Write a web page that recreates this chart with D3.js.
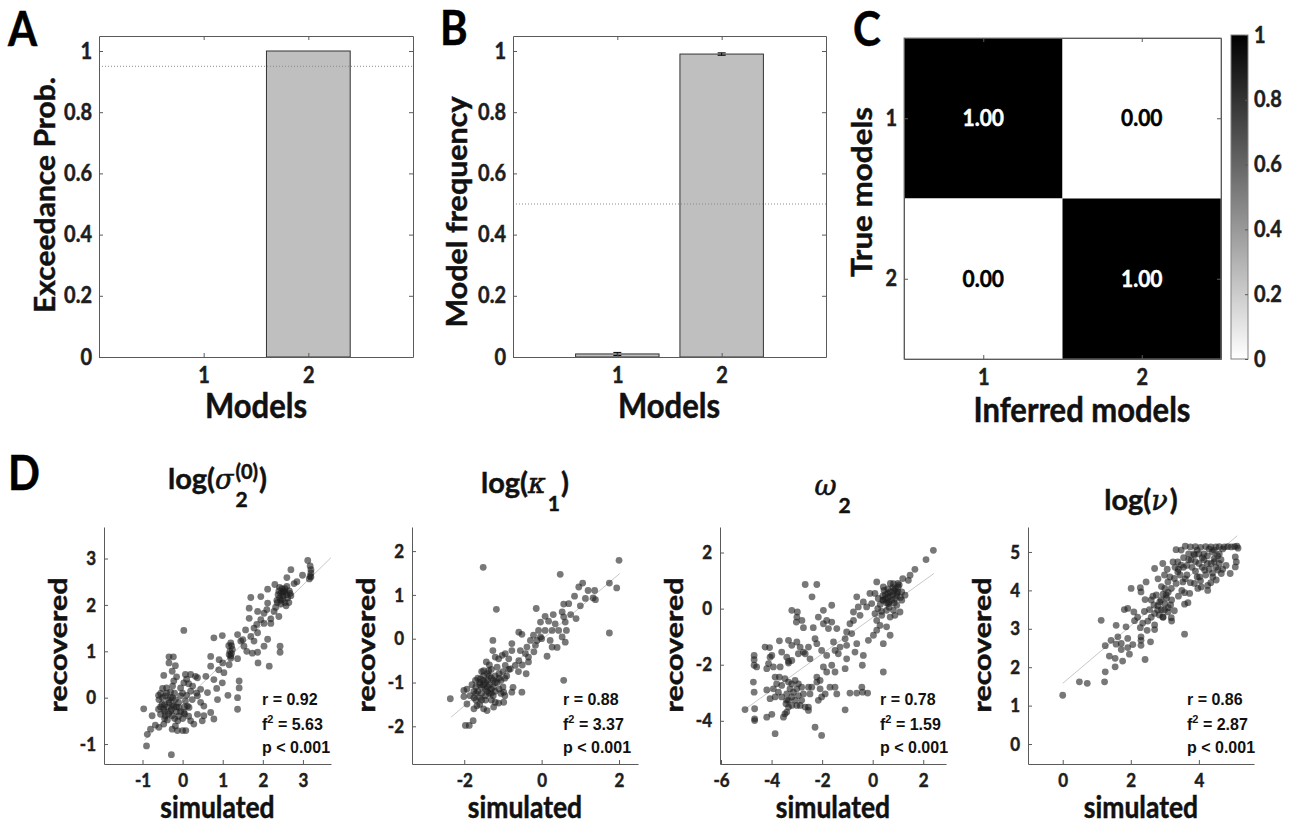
<!DOCTYPE html>
<meta charset="utf-8">
<script src="https://d3js.org/d3.v7.min.js"></script>
<style>
  body { margin: 0; background: #fff; }
  text { font-family: Lato, "Open Sans", sans-serif; font-weight: 700; fill: #111; stroke: #111; stroke-width: 0.45px; }
  .tick text { font-size: 20px; fill: #1e1e1e; stroke: #1e1e1e; }
  .small .tick text { font-size: 17px; }
  .tick line, .domain { stroke: #5a5a5a; }
  .stat { font-family: "Liberation Sans", Arial, sans-serif; font-size: 16px; fill: #111; stroke: none; }
  .greek { font-family: "DejaVu Serif", serif; font-style: italic; font-weight: 400; stroke-width: 0.6px; }
</style>
<div id="fig"></div>
<script>
// ---- data ----
var models = [1, 2]
var probTicks = [0, 0.2, 0.4, 0.6, 0.8, 1]
var exceedProb = [0, 1]
var exceedThreshold = 0.95
var modelFreq = [0.01, 0.99]
var modelFreqErr = [0.005, 0.004]
var freqThreshold = 0.5
var confusion = [[1, 0], [0, 1]]
var confusionLabels = [["1.00", "0.00"], ["0.00", "1.00"]]
var colorbarTicks = [0, 0.2, 0.4, 0.6, 0.8, 1]

var sigmaTicksX = [-1, 0, 1, 2, 3], sigmaTicksY = [-1, 0, 1, 2, 3]
var kappaTicksX = [-2, 0, 2], kappaTicksY = [-2, -1, 0, 1, 2]
var omegaTicksX = [-6, -4, -2, 0, 2], omegaTicksY = [-4, -2, 0, 2]
var nuTicksX = [0, 2, 4], nuTicksY = [0, 1, 2, 3, 4, 5]

// simulated vs recovered
var sigmaPts = [[3.12,2.96],[3.18,2.84],[3.2,2.76],[3.2,2.69],[3.18,2.62],[3.16,2.56],[3.2,2.6],[2.7,2.76],[2.99,2.64],[2.85,2.5],[2.78,2.46],[2.6,2.59],[2.3,2.44],[2.12,2.34],
  [2.4,2.3],[2.45,2.25],[2.5,2.2],[2.55,2.28],[2.6,2.22],[2.5,2.12],[2.42,2.15],[2.35,2.1],[2.55,2.05],[2.62,2.15],[2.66,2.3],[2.48,2.35],[2.38,2.22],[2.7,2.2],[2.58,1.98],[2.45,2.02],[2.32,1.95],[2.65,2.05],[2.5,2.27],[2.42,2.38],
  [2.55,2.35],[2.6,2.4],[2.45,2.1],[2.52,2.3],[2.68,2.25],[2.36,2.05],
  [1.7,2.16],[1.95,2.18],[2.12,2.04],[1.66,1.93],[1.87,1.86],[2.03,1.82],[2.28,1.86],[2.4,1.75],[1.66,1.71],[1.95,1.68],[1.78,1.5],[2.03,1.6],[2.2,1.7],[1.85,1.58],[2.1,1.9],[2.2,1.6],
  [0.03,1.45],[0.78,1.29],[0.99,1.34],[1.37,1.36],[1.57,1.46],[1.7,1.32],[1.87,1.4],[1.5,1.25],[1.2,1.18],[1.24,1.04],[1.16,0.93],[1.45,1.22],[1.53,1.11],[1.78,1.22],[2.12,1.26],[2.03,1.11],[1.74,0.96],[1.87,0.98],[2.43,1.11],[2.43,0.98],[1.88,0.75],[2.16,0.68],[1.37,0.84],[1.2,0.9],[1.22,1.12],[1.6,1.0],
  [1.18,1.0],[1.2,0.85],[1.22,0.95],[1.15,1.12],
  [0.7,0.89],[0.91,0.82],[0.7,0.68],[1.16,0.71],[1.03,0.54],[0.78,0.39],[0.58,0.46],[0.37,0.43],[0.99,0.32],[1.41,0.36],[1.41,0.21],[1.13,0.05],[1.37,0],[1.37,-0.25],[0.87,-0.04],[0.62,0.11],[0.45,0.18],[0.37,0.04],[0.2,0.14],[0.24,-0.04],[0.12,-0.18],[0.53,-0.18],[0.7,-0.32],[0.78,-0.46],[0.49,-0.5],[0.37,-0.36],[0.53,-0.39],[0.9,0.6],[0.85,0.2],[1.0,0.75],
  [-0.34,0.88],[-0.23,0.88],[-0.34,0.75],[-0.18,0.69],[-0.47,0.48],[-0.26,0.57],[-0.22,0.36],[0.07,0.5],[0.2,0.5],[0.32,0.46],[0.03,0.32],[-0.05,0.21],[-0.4,0.21],[-0.3,0.12],[-0.55,0.09],[-0.43,0.04],[-0.59,-0.04],[-0.51,-0.14],[-0.34,-0.11],[-0.18,-0.04],[-0.05,0.04],[0.07,-0.07],[-0.47,-0.25],[-0.3,-0.29],[-0.22,-0.18],[-0.09,-0.21],[0.03,-0.32],[0.16,-0.21],[-0.43,-0.39],[-0.26,-0.39],[-0.55,-0.36],[-0.97,-0.24],[-0.76,-0.39],[-0.68,-0.59],[-0.59,-0.64],[-0.47,-0.57],[-0.26,-0.68],[-0.13,-0.71],[0,-0.71],[0.08,-0.71],[-0.18,-0.61],[0.2,-0.5],[0.28,-0.57],[-0.88,-0.79],[-0.8,-0.68],[-0.9,-1.04],[-0.28,-1.23],
  [-0.38,-0.2],[-0.28,-0.25],[-0.15,-0.3],[-0.35,-0.05],[-0.45,-0.15],[-0.2,0.1],[-0.1,-0.1],[0.1,0.05],[0.15,0.3],[-0.5,0.2],[-0.38,-0.48],[-0.12,-0.5],[0,-0.45],[-0.6,-0.25],[-0.25,0],[0.05,-0.2],[0.25,0.25],[-0.15,0.45],
  [-0.55,-0.2],[-0.45,-0.3],[-0.35,-0.35],[-0.25,-0.15],[-0.15,-0.2],[-0.05,-0.3],[0.05,-0.35],[-0.5,0],[-0.4,0.1],[-0.3,0],[-0.2,-0.45],[-0.1,-0.4],[0.15,-0.4],[-0.45,-0.45],[0,0.1],[-0.6,0.05],[-0.25,0.25],[0.1,0.4],[0.35,0.1],[0.45,-0.1]]

var kappaPts = [[2.0,1.79],[1.75,1.27],[1.94,1.16],[1.37,1.1],[1.39,0.89],[1.33,0.93],[1.13,0.92],[1.06,1.27],[0.96,1.18],[0.85,0.97],[0.7,0.8],[0.48,1.47],[0.57,0.79],[0.53,0.61],[0.57,0.5],[0.61,0.38],[0.89,0.46],[0.64,0.19],[0.53,0.04],[0.61,-0.08],[0.57,-0.95],[1.75,0.13],[-1.51,1.63],[-1.17,0.67],[-0.14,0.69],[0.09,0.51],[0.18,0.4],[-0.03,0.38],[0.35,0.34],[0.44,0.19],[0.27,0.19],[0.09,0.19],[-0.08,0.19],[-0.21,0.08],[-0.29,-0.04],[-0.12,-0.04],[-0.03,0.04],[-0.16,-0.15],[-0.38,-0.19],[0.22,-0.04],[0.27,-0.19],[0.14,-0.4],[-0.59,0.15],[-0.51,0.1],[-0.77,-0.11],[-0.55,-0.27],[-0.42,-0.34],[-0.34,-0.42],[-0.59,-0.5],[-0.68,-0.61],[-0.34,-0.53],[-1.26,-0.04],[-1.26,-0.27],[-1.02,-0.38],[-0.85,-0.46],[-1.11,-0.46],[-0.94,-0.61],[-0.81,-0.69],[-1.43,-0.53],[-1.5,-0.73],[-1.71,-0.95],[-1.93,-1.15],[-2.01,-1.18],[-2.01,-1.32],[-1.93,-1.49],[-1.75,-1.6],[-1.67,-1.53],[-2.36,-1.37],[-1.97,-1.98],[-1.87,-1.98],[-1.77,-1.87],[-1.41,-1.64],[-1.24,-1.56],[-1.11,-1.47],[-0.98,-1.45],[-0.77,-1.22],[-0.51,-1.22],[-0.98,-1.22],[-0.74,-1.11],
  [-1.7,-1.1],[-1.6,-1.0],[-1.5,-1.05],[-1.45,-1.15],[-1.55,-1.25],[-1.4,-0.95],[-1.35,-1.05],[-1.3,-0.9],[-1.25,-1.1],[-1.2,-0.85],[-1.15,-1.0],[-1.1,-0.8],[-1.05,-0.95],[-1.0,-0.75],[-1.6,-1.35],[-1.45,-1.3],[-1.35,-1.25],[-1.25,-1.3],[-1.5,-0.85],[-1.65,-0.9],[-1.4,-0.8],[-1.3,-0.7],[-1.2,-1.2],[-1.1,-1.15],[-1.0,-1.1],[-0.95,-0.9],[-0.9,-0.85],[-1.75,-1.2],[-1.8,-1.05],[-1.55,-0.75],[-1.35,-0.6],[-1.15,-0.65],[-0.85,-0.7],[-1.45,-1.4],[-1.6,-1.5],[-1.3,-1.4],[-1.05,-1.25],[-1.85,-1.3],[-1.7,-1.4],[-1.5,-1.6],[-1.2,-1.45],[-0.95,-1.3],
  [-1.65,-1.2],[-1.55,-1.1],[-1.4,-1.2],[-1.3,-1.15],[-1.5,-0.95],[-1.25,-0.95],[-1.35,-0.85],[-1.6,-1.05],[-1.45,-1.0],[-1.2,-1.0],[-1.4,-1.1],[-1.75,-1.35],[-1.55,-1.4],[-1.1,-0.9],[-1.3,-1.25],[-1.7,-1.25],
  [-1.2,-0.42],[-0.94,-0.34],[-0.77,-0.27],[-1.37,-0.73],[-1.58,-0.92],[-0.5,-0.6],[-0.6,-0.75],[-0.2,-0.3],[0,0],[0.3,0.55],[0.75,0.55],[1.0,0.75],[1.2,1.1],[0.4,-0.2],[-0.4,-0.8]]

var omegaPts = [[2.4,2.08],[2.11,1.75],[1.67,1.4],[1.48,1.19],[1.41,1.01],[1.19,1.07],[0.16,0.95],[0.42,0.77],[0.82,0.89],[1.01,0.77],[1.15,0.6],[1.28,0.48],[1.15,0.3],[0.95,0.12],[0.82,-0.06],[0.62,0.18],[0.42,0.3],[0.22,0.36],[0.09,0.54],[-0.11,0.54],[-0.04,0.18],[-0.24,0.06],[-0.37,0.24],[-0.63,0.42],[-0.57,0.06],[-0.5,-0.24],[-0.76,-0.12],[-0.76,-0.42],[-0.9,-0.54],[-1.03,-0.83],[-1.09,-1.07],[-0.83,-0.89],[-0.63,-1.25],[-0.7,-1.55],[-1.03,-1.79],[-1.09,-2.14],[-0.41,-2.02],[-0.37,-1.67],[-0.17,-1.13],[0.03,-0.95],[0.16,-0.77],[0.29,-0.6],[0.55,-0.65],[0.69,-0.95],[0.42,-1.25],[0.16,-0.42],[0.42,-2.26],[0.09,-0.18],[0.69,-0.3],[0.88,-0.24],[1.08,-0.12],[0.55,-0.06],[0.36,-0.24],
  [0.5,0.5],[0.6,0.4],[0.7,0.6],[0.8,0.5],[0.9,0.7],[1.0,0.6],[0.75,0.3],[0.85,0.2],[0.55,0.2],[0.4,0.3],[0.3,0.15],[0.6,0.7],[0.95,0.45],[1.05,0.85],[0.7,0.9],[0.45,0.65],[0.2,0],[0.35,-0.1],[1.1,0.4],[0.65,0.05],
  [0.5,0.35],[0.7,0.45],[0.85,0.65],[0.95,0.55],[0.6,0.55],[1.0,0.9],[0.8,0.75],[0.4,0.45],[0.65,0.25],[0.9,0.35],
  [-2.67,0.86],[-2.21,0.86],[-2.4,0.42],[-1.62,0.12],[-1.95,-0.06],[-2.15,-0.3],[-1.95,-0.54],[-1.82,-0.42],[-1.62,-0.48],[-1.42,-0.71],[-1.75,-0.71],[-2.35,-0.68],[-2.74,-0.68],[-3.2,-0.06],[-2.98,-0.12],[-3.0,-0.3],[-2.8,-0.42],[-3.02,-0.48],[-3.69,-1.15],[-3.33,-1.13],[-3.2,-1.31],[-3.0,-1.19],[-2.87,-1.37],[-2.74,-1.55],[-2.54,-1.37],[-2.28,-1.07],[-2.21,-1.25],[-2.02,-1.49],[-1.82,-1.67],[-1.49,-1.49],[-1.36,-1.61],[-1.29,-1.37],[-1.55,-1.19],[-1.03,-1.31],[-1.95,-2.08],[-1.82,-2.26],[-1.62,-2.02],[-1.49,-2.26],[-2.21,-2.44],[-2.67,-1.61],[-2.48,-1.79],[-2.94,-1.61],[-3.4,-1.73],[-3.33,-1.88],[-3.6,-1.55],[-4.06,-1.73],[-4.26,-1.37],[-4.08,-1.39],[-3.99,-1.67],[-4.69,-1.67],[-4.69,-1.82],[-4.69,-2.02],[-4.59,-2.08],[-4.12,-1.96],[-4.19,-2.14],[-3.93,-2.08],[-3.66,-2.08],[-3.33,-1.94],[-3.2,-1.85],
  [-4.72,-2.62],[-4.69,-2.98],[-3.86,-2.44],[-3.69,-2.44],[-3.93,-2.86],[-3.6,-3.15],[-3.4,-3.27],[-3.47,-2.5],[-3.33,-2.62],[-3.2,-2.68],[-3.07,-2.56],[-2.94,-2.68],[-2.81,-2.8],[-3.27,-2.86],[-3.14,-2.98],[-3.0,-2.86],[-3.4,-3.04],[-3.2,-3.15],[-2.94,-3.1],[-2.81,-3.27],[-3.43,-3.39],[-3.33,-3.51],[-3.2,-3.45],[-3.0,-3.45],[-2.87,-3.45],[-2.74,-3.04],[-3.07,-3.27],
  [-2.54,-2.8],[-2.48,-3.04],[-2.41,-2.8],[-2.21,-2.62],[-2.08,-2.56],[-2.08,-2.86],[-1.88,-3.04],[-1.69,-2.8],[-1.49,-2.8],[-1.42,-3.04],[-2.15,-3.27],[-2.02,-3.15],[-2.54,-3.51],[-2.67,-3.51],[-2.54,-3.63],[-2.28,-4.23],[-2.02,-4.52],[-1.09,-3.61],[-0.9,-3.01],[-0.63,-3.01],[-0.43,-2.8],[-0.2,-3.01],[-0.4,-2.98],[-5.05,-3.6],[-4.67,-3.57],[-4.67,-3.93],[-4.67,-3.99],[-4.19,-3.87],[-3.99,-3.77],[-3.86,-4.46],[-3.53,-3.87],[-3.4,-3.69],[-3.47,-3.75],[-3.33,-3.27],[-4.06,-3.21],[-3.86,-3.15],[-3.73,-2.98],[-4.19,-2.9],[-3.6,-2.74],[-3.8,-2.68]]

var nuPts = [[0,1.27],[0.49,1.62],[0.72,1.58],[1.23,1.62],[1.25,1.88],[1.54,2.01],[1.37,2.29],[1.54,2.23],[1.76,2.16],[1.96,2.34],[2.42,2.2],[1.13,3.22],[1.57,3.09],[1.25,2.56],[1.42,2.7],[1.57,2.6],[1.72,2.62],[1.62,2.79],[1.86,3.05],[1.91,2.75],[1.72,2.46],[1.91,2.51],[2.06,2.59],[2.3,2.57],[2.3,2.7],[2.3,2.79],[2.58,2.66],[2.48,2.96],[2.7,2.98],[2.28,3.03],[2.11,3.21],[2.09,3.44],[1.91,3.53],[1.81,3.5],[2.01,4.05],[2.28,4.07],[2.3,3.96],[2.42,3.76],[2.45,4.22],[2.7,4.57],[2.6,3.75],[2.68,3.62],[2.75,3.88],[2.79,3.49],[2.84,3.36],[2.94,3.31],[2.99,3.49],[3.09,3.44],[3.19,3.29],[3.28,3.47],[3.17,3.62],[2.89,3.75],[3.04,3.88],[3.19,4.05],[3.09,4.22],[2.99,4.4],[2.94,4.7],[3.07,4.55],[3.24,4.74],[3.38,4.74],[3.48,4.66],[3.38,4.48],[3.28,4.31],[3.33,4.18],[3.53,4.22],[3.58,3.94],[3.73,3.92],[3.58,3.64],[3.68,3.68],[3.58,2.86],[3.33,5.06],[3.48,5.05],
  [3.6,5.15],[3.75,5.13],[3.9,5.14],[4.05,5.12],[4.2,5.14],[4.35,5.13],[4.5,5.13],[4.6,5.14],[4.75,5.13],[4.85,5.14],[4.95,5.13],[5.05,5.14],[5.12,5.15],[5.15,5.1],[4.3,5.08],[4.45,5.05],[3.95,5.05],[4.7,5.08],
  [5.07,4.87],[5.1,4.74],[5.07,4.61],[4.92,4.44],[4.66,4.44],[4.56,4.53],[4.41,4.35],[4.51,4.27],[4.26,4.13],[4.26,4.0],[4.07,4.09],[3.97,4.05],[3.87,4.18],[4.02,4.35],[4.17,4.53],[4.36,4.7],[4.46,4.83],[3.87,4.92],[3.77,4.79],
  [3.7,4.8],[3.8,4.6],[3.9,4.5],[4.0,4.7],[4.1,4.6],[4.2,4.4],[4.3,4.55],[4.4,4.45],[4.5,4.6],[4.6,4.7],[3.95,4.35],[4.05,4.25],[3.65,4.4],[3.75,4.2],[4.15,4.8],[4.25,4.9],[3.85,4.95],[4.55,4.9],[4.7,4.55],[4.8,4.65],[3.55,4.6],[3.45,4.4],[4.35,4.2],[3.5,4.0],[3.4,3.85],[3.1,3.95],[3.0,4.05],[3.2,3.75],[2.9,4.1],[2.8,4.3],[3.55,4.85],[3.3,4.6],[3.15,4.35],[4.0,4.95],
  [4.4,5.0],[4.6,4.95],[4.15,4.95],[3.65,4.65],[4.25,4.7],[4.45,4.75],[3.9,4.75],[4.1,4.85],[4.65,4.8],[3.7,4.95],[3.4,4.55],[3.6,4.3],
  [2.8,3.6],[2.9,3.5],[3.0,3.65],[3.1,3.55],[2.95,3.3],[2.7,3.4],[2.6,3.3],[2.55,3.5],[3.05,3.8],[2.85,3.7],[2.4,3.45],[2.5,3.2],[2.2,3.3],[2.35,3.15],[2.7,3.1],[3.2,3.2],[2.65,3.85],[2.95,3.9]]

// least-squares lines: slope, intercept, x range
var sigmaFit = {slope: 0.845, intercept: -0.107, from: -0.95, to: 3.7}
var kappaFit = {slope: 0.752, intercept: -0.03, from: -2.34, to: 2.02}
var omegaFit = {slope: 0.648, intercept: -0.317, from: -5.02, to: 2.42}
var nuFit = {slope: 0.749, intercept: 1.58, from: 0, to: 5.13}

var sigmaStats = ["0.92", "5.63", "0.001"]
var kappaStats = ["0.88", "3.37", "0.001"]
var omegaStats = ["0.78", "1.59", "0.001"]
var nuStats = ["0.86", "2.87", "0.001"]

// ---- drawing ----
var SY = 1.12   // the original figure is slightly taller than wide, stretch glyphs a bit
var svg = d3.select("#fig").append("svg").attr("width", 1291).attr("height", 829)

function stretch(sel) {
    sel.each(function () {
        var t = d3.select(this)
        var x = +t.attr("x") || 0, y = +t.attr("y") || 0
        t.attr("x", 0).attr("y", 0).attr("transform", "translate(" + x + "," + y + ") scale(1," + SY + ")")
    })
}

function letter(t, x, y) {
    stretch(svg.append("text").attr("x", x).attr("y", y).style("font-size", "42px").style("fill", "#000").style("stroke", "#000").text(t))
}

function vLabel(t, x, y, size, len) {
    svg.append("text")
    .attr("transform", "translate(" + x + "," + y + ") rotate(-90)")
    .attr("text-anchor", "middle")
    .attr("textLength", len).attr("lengthAdjust", "spacingAndGlyphs")
    .style("font-size", size + "px")
    .text(t)
}

function hLabel(t, x, y, size) {
    stretch(svg.append("text").attr("x", x).attr("y", y).attr("text-anchor", "middle")
    .style("font-size", size + "px").text(t))
}

function fmt(d) { return String(d) }

// box with inward ticks on all four sides
function boxAxes(g, x, y, xt, yt) {
    var x0 = d3.min(x.range()), x1 = d3.max(x.range()), yb = d3.max(y.range()), yt0 = d3.min(y.range())
    g.append("g").attr("transform", "translate(0," + yb + ")")
    .call(d3.axisBottom(x).tickValues(xt).tickSize(-4).tickSizeOuter(0).tickPadding(10).tickFormat(fmt))
    g.append("g").attr("transform", "translate(0," + yt0 + ")")
    .call(d3.axisTop(x).tickValues(xt).tickSize(-4).tickSizeOuter(0).tickFormat(""))
    g.append("g").attr("transform", "translate(" + x0 + ",0)")
    .call(d3.axisLeft(y).tickValues(yt).tickSize(-4).tickSizeOuter(0).tickPadding(7).tickFormat(fmt))
    g.append("g").attr("transform", "translate(" + x1 + ",0)")
    .call(d3.axisRight(y).tickValues(yt).tickSize(-4).tickSizeOuter(0).tickFormat(""))
}

function barPanel(left, right, values, errors, threshold) {
    var g = svg.append("g")
    var x = d3.scaleLinear().domain([0, 3]).range([left, right])
    var y = d3.scaleLinear().domain([0, 1.049]).range([357, 36])

    g.selectAll(".bar").data(values).enter().append("rect")
    .attr("class", "bar")
    .attr("x", function (d, i) { return x(models[i] - 0.4) })
    .attr("width", x(0.8) - x(0))
    .attr("y", function (d) { return y(d) })
    .attr("height", function (d) { return y(0) - y(d) })
    .attr("fill", "#bfbfbf").attr("stroke", "#333").attr("stroke-width", 1)

    if (errors) {
        var eb = g.selectAll(".err").data(values).enter().append("g")
        eb.append("line")
        .attr("x1", function (d, i) { return x(models[i]) }).attr("x2", function (d, i) { return x(models[i]) })
        .attr("y1", function (d, i) { return y(d - errors[i]) }).attr("y2", function (d, i) { return y(d + errors[i]) })
        .attr("stroke", "#000")
        ;[-1, 1].forEach(function (s) {
            eb.append("line")
            .attr("x1", function (d, i) { return x(models[i]) - 4 }).attr("x2", function (d, i) { return x(models[i]) + 4 })
            .attr("y1", function (d, i) { return y(d + s * errors[i]) }).attr("y2", function (d, i) { return y(d + s * errors[i]) })
            .attr("stroke", "#000")
        })
    }

    g.append("line")
    .attr("x1", x(0)).attr("x2", x(3)).attr("y1", y(threshold)).attr("y2", y(threshold))
    .attr("stroke", "#8c8c8c").attr("stroke-dasharray", "1,2")

    boxAxes(g, x, y, models, probTicks)
}

// A
letter("A", 8, 46)
barPanel(99, 413, exceedProb, null, exceedThreshold)
vLabel("Exceedance Prob.", 55, 195, 28, 236)
hLabel("Models", 256, 418, 31)

// B
letter("B", 440, 45)
barPanel(513, 826, modelFreq, modelFreqErr, freqThreshold)
vLabel("Model frequency", 467, 212, 28, 231)
hLabel("Models", 669, 418, 31)

// C
letter("C", 853, 46)
var gc = svg.append("g")
var cx = d3.scaleLinear().domain([0.5, 2.5]).range([904, 1221])
var cy = d3.scaleLinear().domain([0.5, 2.5]).range([38, 359])
var grey = d3.scaleLinear().domain([0, 1]).range(["#ffffff", "#000000"])
var cells = []
confusion.forEach(function (row, i) { row.forEach(function (v, j) { cells.push({i: i, j: j, v: v, label: confusionLabels[i][j]}) }) })
gc.selectAll(".cell").data(cells).enter().append("rect")
.attr("x", function (d) { return cx(d.j + 0.5) }).attr("y", function (d) { return cy(d.i + 0.5) })
.attr("width", cx(1) - cx(0)).attr("height", cy(1) - cy(0))
.attr("fill", function (d) { return grey(d.v) })
gc.selectAll(".clab").data(cells).enter().append("text")
.attr("x", function (d) { return cx(d.j + 1) }).attr("y", function (d) { return cy(d.i + 1) + 8 })
.attr("text-anchor", "middle")
.style("font-size", "21px")
.style("fill", function (d) { return d.v > 0.5 ? "#fff" : "#000" })
.style("stroke", function (d) { return d.v > 0.5 ? "#fff" : "#000" })
.text(function (d) { return d.label })
.call(stretch)
gc.append("rect").attr("x", 904).attr("y", 38).attr("width", 317).attr("height", 321)
.attr("fill", "none").attr("stroke", "#808080")
boxAxes(gc, cx, cy, models, models)
gc.selectAll(".domain").attr("stroke", "#808080")

// colorbar
var grad = svg.append("defs").append("linearGradient").attr("id", "cb")
.attr("x1", 0).attr("y1", 1).attr("x2", 0).attr("y2", 0)
grad.append("stop").attr("offset", 0).attr("stop-color", grey(0))
grad.append("stop").attr("offset", 1).attr("stop-color", grey(1))
var cbY = d3.scaleLinear().domain([0, 1]).range([359, 35])
svg.append("rect").attr("x", 1231).attr("y", 35).attr("width", 17).attr("height", 324)
.attr("fill", "url(#cb)").attr("stroke", "#808080")
svg.append("g").attr("transform", "translate(1248,0)")
.call(d3.axisRight(cbY).tickValues(colorbarTicks).tickSize(-3).tickSizeOuter(0).tickPadding(6).tickFormat(fmt))
.select(".domain").remove()

vLabel("True models", 872, 192, 28, 170)
hLabel("Inferred models", 1082, 422, 31)

// D
letter("D", 8, 490)

var panels = [
    {pts: sigmaPts, fit: sigmaFit, stats: sigmaStats, left: 104, right: 331, xd: [-1.96, 3.7], yd: [-1.43, 3.68], xt: sigmaTicksX, yt: sigmaTicksY,
     title: [{t: "log("}, {t: "\u03c3", greek: true}, {sub: "2", sup: "(0)"}, {t: ")"}], base: 489, statX: 262},
    {pts: kappaPts, fit: kappaFit, stats: kappaStats, left: 412, right: 638, xd: [-3.35, 2.49], yd: [-2.86, 2.55], xt: kappaTicksX, yt: kappaTicksY,
     title: [{t: "log("}, {t: "\u03ba", greek: true}, {sub: "1"}, {t: ")"}], base: 493, statX: 563},
    {pts: omegaPts, fit: omegaFit, stats: omegaStats, left: 720, right: 946, xd: [-6.04, 2.9], yd: [-5.54, 2.91], xt: omegaTicksX, yt: omegaTicksY,
     title: [{t: "\u03c9", greek: true}, {sub: "2"}], base: 495, statX: 880},
    {pts: nuPts, fit: nuFit, stats: nuStats, left: 1028, right: 1254, xd: [-1.02, 5.62], yd: [-0.52, 5.65], xt: nuTicksX, yt: nuTicksY,
     title: [{t: "log("}, {t: "\u03bd", greek: true}, {t: ")"}], base: 510, statX: 1187}
]

function drawTitle(parts, cxm, base) {
    var g = svg.append("g")
    var pos = 0
    parts.forEach(function (p) {
        if (p.t) {
            var t = g.append("text").attr("x", pos).attr("y", 0).style("font-size", "29px").text(p.t)
            if (p.greek) t.attr("class", "greek").style("font-size", "27px")
            pos += t.node().getComputedTextLength() + (p.greek ? 2 : 0)
        } else {
            var w = 0
            if (p.sub) {
                var s = g.append("text").attr("x", pos).attr("y", 18).style("font-size", "21px").text(p.sub)
                w = s.node().getComputedTextLength()
            }
            if (p.sup) {
                var u = g.append("text").attr("x", pos).attr("y", -10).style("font-size", "20px").text(p.sup)
                w = Math.max(w, u.node().getComputedTextLength())
            }
            pos += w + 1
        }
    })
    g.attr("transform", "translate(" + (cxm - pos / 2) + "," + base + ")")
}

panels.forEach(function (p) {
    var g = svg.append("g").attr("class", "small")
    var x = d3.scaleLinear().domain(p.xd).range([p.left, p.right])
    var y = d3.scaleLinear().domain(p.yd).range([764, 527])

    g.append("line")
    .attr("x1", x(p.fit.from)).attr("x2", x(p.fit.to))
    .attr("y1", y(p.fit.intercept + p.fit.slope * p.fit.from))
    .attr("y2", y(p.fit.intercept + p.fit.slope * p.fit.to))
    .attr("stroke", "#c8c8c8").attr("stroke-width", 1)

    g.append("g").selectAll("circle").data(p.pts).enter().append("circle")
    .attr("cx", function (d) { return x(d[0]) })
    .attr("cy", function (d) { return y(d[1]) })
    .attr("r", 3.4)
    .style("fill", "#1e1e1e").style("fill-opacity", 0.6)

    g.append("g").attr("transform", "translate(0,764)")
    .call(d3.axisBottom(x).tickValues(p.xt).tickSize(-4).tickSizeOuter(0).tickPadding(9).tickFormat(fmt))
    g.append("g").attr("transform", "translate(" + p.left + ",0)")
    .call(d3.axisLeft(y).tickValues(p.yt).tickSize(-4).tickSizeOuter(0).tickPadding(8).tickFormat(fmt))
    g.selectAll(".domain").attr("stroke", "#6e6e6e")

    var st = g.append("g")
    st.append("text").attr("class", "stat").attr("x", p.statX).attr("y", 705).text("r = " + p.stats[0])
    var f = st.append("text").attr("class", "stat").attr("x", p.statX).attr("y", 730)
    f.append("tspan").text("f")
    f.append("tspan").attr("dy", -7).style("font-size", "11px").text("2")
    f.append("tspan").attr("dy", 7).text(" = " + p.stats[1])
    st.append("text").attr("class", "stat").attr("x", p.statX).attr("y", 753).text("p < " + p.stats[2])

    drawTitle(p.title, (p.left + p.right) / 2, p.base)
    vLabel("recovered", p.left - 37, 645, 25, 135)
    hLabel("simulated", (p.left + p.right) / 2, 818, 26.5)
})

// taller glyphs for every tick label
svg.selectAll(".tick text").call(stretch)
</script>
